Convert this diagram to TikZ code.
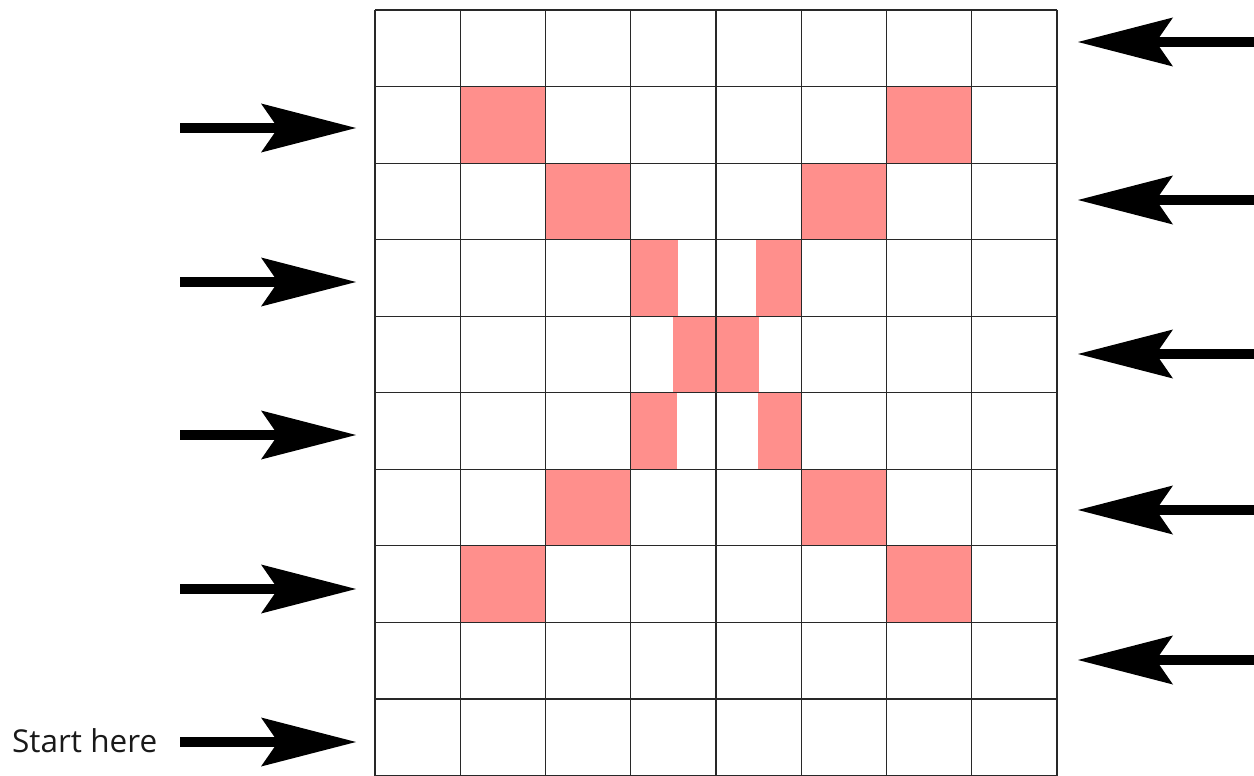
\documentclass[tikz,border=0pt]{standalone}
\usepackage{fontspec}
\setmainfont{Open Sans}
\usetikzlibrary{arrows.meta}
\definecolor{cellpink}{RGB}{255,143,140}
\definecolor{gridline}{RGB}{40,40,40}
\begin{document}
\begin{tikzpicture}[x=1pt,y=-1pt,
  pinkcell/.style={fill=cellpink,draw=none},
  gridstyle/.style={draw=gridline,line width=1.1pt},
  bigarrow/.style={line width=10pt,-{Stealth[length=95pt,width=49pt,inset=17pt,line width=0pt]}},
  label/.style={inner sep=0pt,font=\fontsize{31.5}{38}\selectfont,text=black!90}]
\useasboundingbox (0,0) rectangle (1254,776);
% pink cells
\fill[pinkcell] (460.25,86.6) rectangle (545.5,163.2);
\fill[pinkcell] (886.5,86.6) rectangle (971.75,163.2);
\fill[pinkcell] (545.5,163.2) rectangle (630.75,239.8);
\fill[pinkcell] (801.25,163.2) rectangle (886.5,239.8);
\fill[pinkcell] (630.75,239.8) rectangle (678,316.4);
\fill[pinkcell] (756,239.8) rectangle (801.25,316.4);
\fill[pinkcell] (673,316.4) rectangle (759,393);
\fill[pinkcell] (630.75,393) rectangle (677,469.6);
\fill[pinkcell] (758,393) rectangle (801.25,469.6);
\fill[pinkcell] (545.5,469.6) rectangle (630.75,546.2);
\fill[pinkcell] (801.25,469.6) rectangle (886.5,546.2);
\fill[pinkcell] (460.25,546.2) rectangle (545.5,622.8);
\fill[pinkcell] (886.5,546.2) rectangle (971.75,622.8);
% grid
\foreach \i in {0,...,8} {
  \draw[gridstyle] ({375+85.25*\i},10) -- ({375+85.25*\i},775.5);
}
\foreach \j in {0,...,10} {
  \draw[gridstyle] (375,{10+76.55*\j}) -- (1057,{10+76.55*\j});
}
% left arrows
\foreach \n/\y in {a/128,b/282,c/435,d/589,e/742} {
  \coordinate (L\n tail) at (180,\y);
  \coordinate (L\n tip) at (356,\y);
  \draw[bigarrow] (L\n tail) -- (L\n tip);
}
% right arrows
\foreach \n/\y in {a/42,b/200,c/354,d/510,e/660} {
  \coordinate (R\n tail) at (1254,\y);
  \coordinate (R\n tip) at (1078,\y);
  \draw[bigarrow] (R\n tail) -- (R\n tip);
}
\node[label,anchor=base west] (start) at (12,752) {Start here};
\end{tikzpicture}
\end{document}
